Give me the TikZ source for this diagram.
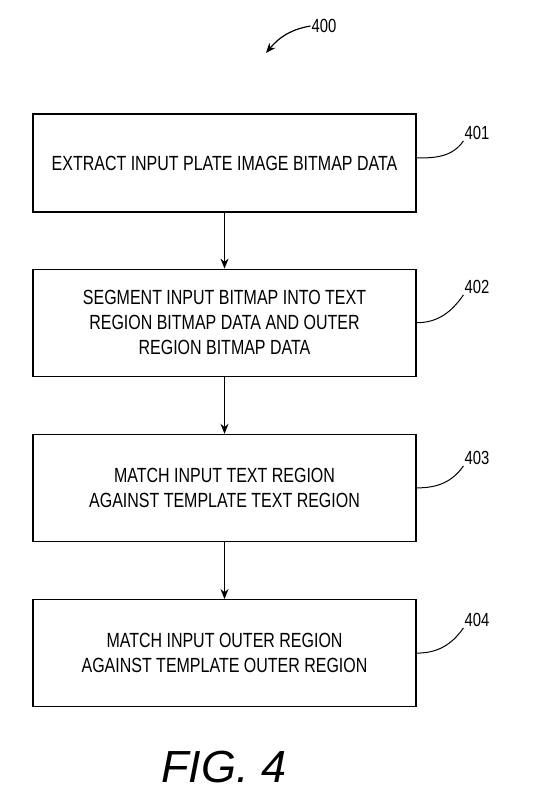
\documentclass[tikz,border=0pt]{standalone}
\usepackage{fontspec}
\newfontfamily\boxfont{Liberation Sans}[FakeStretch=0.78]
\newfontfamily\figfont{Liberation Sans}
\usepackage{tikz}
\usetikzlibrary{arrows.meta,positioning}
\tikzset{%
	process/.style = {draw, rectangle, line width=1.2pt, minimum width=383pt, minimum height=107pt, align=center, font=\boxfont\fontsize{20.5}{25}\selectfont},
	arrow/.style   = {line width=1.2pt, -{Stealth[length=10pt,width=8pt]}},
	leader/.style  = {line width=1pt},
	refnum/.style  = {inner sep=1pt, font=\boxfont\fontsize{19}{20}\selectfont},
}

\begin{document}
\begin{tikzpicture}[x=1pt, y=-1pt, node distance = 57pt]
	\useasboundingbox (0,0) rectangle (542,799);

	\node[process, minimum height=98pt] (extract) at (224.5,163) {EXTRACT INPUT PLATE IMAGE BITMAP DATA};
	\node[process, below=56pt of extract] (segment) {SEGMENT INPUT BITMAP INTO TEXT\\REGION BITMAP DATA AND OUTER\\REGION BITMAP DATA};
	\node[process, below=of segment] (matchtext) {MATCH INPUT TEXT REGION\\AGAINST TEMPLATE TEXT REGION};
	\node[process, below=of matchtext] (matchouter) {MATCH INPUT OUTER REGION\\AGAINST TEMPLATE OUTER REGION};

	% reference numerals
	\node[refnum] (lbl400) at (324,26) {400};
	\coordinate (tip400) at (266,53);
	\node[refnum] (lbl401) at (477,133) {401};
	\node[refnum] (lbl402) at (477,287) {402};
	\node[refnum] (lbl403) at (477,458) {403};
	\node[refnum] (lbl404) at (477,620) {404};

	\node[font=\figfont\itshape\fontsize{45}{50}\selectfont] (fig) at (224,767) {FIG. 4};

	\draw[arrow] (extract) -- (segment);
	\draw[arrow] (segment) -- (matchtext);
	\draw[arrow] (matchtext) -- (matchouter);

	\draw[arrow] (lbl400.west) to[out=190, in=50] (tip400);
	\draw[leader] ([yshift=5pt]extract.east) to[out=0, in=235] (lbl401.south west);
	\draw[leader] (segment.east) to[out=0, in=235] (lbl402.south west);
	\draw[leader] (matchtext.east) to[out=0, in=235] (lbl403.south west);
	\draw[leader] (matchouter.east) to[out=0, in=235] (lbl404.south west);
\end{tikzpicture}
\end{document}
